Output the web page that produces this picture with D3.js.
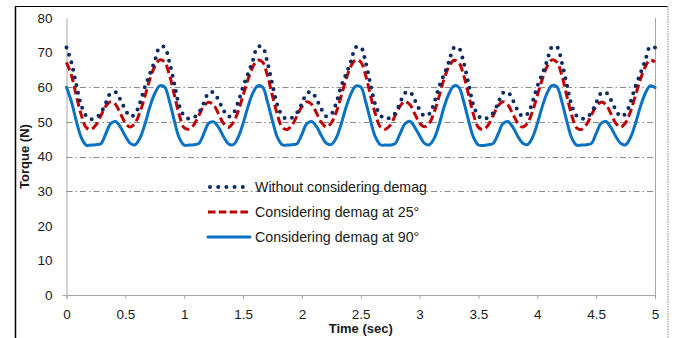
<!DOCTYPE html>
<html>
<head>
<meta charset="utf-8">
<script src="https://cdn.jsdelivr.net/npm/d3@7"></script>
<style>
  html, body { margin: 0; padding: 0; background: #fff; }
  svg { display: block; }
  text { font-family: "Liberation Sans", Arial, sans-serif; }
</style>
</head>
<body>
<svg id="chart" width="686" height="338"></svg>
<script>
// ---- data ----
const time = [
  0, 0.042, 0.083, 0.125, 0.167, 0.208, 0.25, 0.292, 0.333, 0.375, 0.417, 0.458,
  0.5, 0.542, 0.583, 0.625, 0.667, 0.708, 0.75, 0.792, 0.833, 0.875, 0.917, 0.958,
  1, 1.042, 1.083, 1.125, 1.167, 1.208, 1.25, 1.292, 1.333, 1.375, 1.417, 1.458,
  1.5, 1.542, 1.583, 1.625, 1.667, 1.708, 1.75, 1.792, 1.833, 1.875, 1.917, 1.958,
  2, 2.042, 2.083, 2.125, 2.167, 2.208, 2.25, 2.292, 2.333, 2.375, 2.417, 2.458,
  2.5, 2.542, 2.583, 2.625, 2.667, 2.708, 2.75, 2.792, 2.833, 2.875, 2.917, 2.958,
  3, 3.042, 3.083, 3.125, 3.167, 3.208, 3.25, 3.292, 3.333, 3.375, 3.417, 3.458,
  3.5, 3.542, 3.583, 3.625, 3.667, 3.708, 3.75, 3.792, 3.833, 3.875, 3.917, 3.958,
  4, 4.042, 4.083, 4.125, 4.167, 4.208, 4.25, 4.292, 4.333, 4.375, 4.417, 4.458,
  4.5, 4.542, 4.583, 4.625, 4.667, 4.708, 4.75, 4.792, 4.833, 4.875, 4.917, 4.958,
  5
];

const withoutDemag = [
  71.5, 67.1, 60.8, 54.8, 51.8, 50.8, 51.2, 52.6, 55.4, 58.3, 58.6, 56.4, 53.5, 51.6, 52.3, 55.6, 60.2, 63.8, 67.6, 71.6,
  71.6, 67.2, 60.9, 54.7, 51.7, 50.9, 51.3, 52.7, 55.5, 58.4, 58.5, 56.3, 53.4, 51.5, 52.4, 55.7, 60.1, 63.9, 67.7, 71.7,
  71.5, 67.0, 60.7, 54.8, 51.8, 50.8, 51.2, 52.6, 55.3, 58.2, 58.6, 56.5, 53.6, 51.6, 52.2, 55.5, 60.2, 63.8, 67.5, 71.6,
  71.6, 67.1, 60.8, 54.9, 51.9, 50.9, 51.2, 52.5, 55.4, 58.3, 58.7, 56.4, 53.5, 51.7, 52.3, 55.6, 60.3, 63.7, 67.4, 71.4,
  71.3, 67.0, 60.8, 54.8, 51.8, 50.8, 51.3, 52.6, 55.4, 58.4, 58.6, 56.3, 53.4, 51.6, 52.3, 55.6, 60.2, 63.8, 67.6, 71.6,
  71.6, 67.2, 60.9, 54.8, 51.8, 50.9, 51.2, 52.6, 55.5, 58.3, 58.5, 56.4, 53.5, 51.6, 52.4, 55.7, 60.2, 63.9, 67.7, 71.7,
  71.5
];

const demag25 = [
  67.2, 63.4, 57.6, 52.1, 48.4, 47.8, 49.1, 51.8, 54.5, 55.8, 55.0, 52.4, 49.7, 48.5, 49.7, 52.9, 57.5, 62.3, 66.0, 67.9,
  67.3, 63.5, 57.7, 52.0, 48.3, 47.9, 49.2, 51.9, 54.6, 55.7, 54.9, 52.3, 49.6, 48.4, 49.8, 53.0, 57.6, 62.2, 65.9, 67.8,
  67.2, 63.3, 57.5, 52.1, 48.4, 47.8, 49.1, 51.7, 54.4, 55.8, 55.1, 52.5, 49.8, 48.5, 49.7, 52.8, 57.4, 62.3, 66.1, 67.9,
  67.3, 63.4, 57.6, 52.2, 48.5, 47.9, 49.0, 51.8, 54.5, 55.9, 55.0, 52.4, 49.7, 48.6, 49.6, 52.9, 57.5, 62.4, 66.0, 67.8,
  67.1, 63.4, 57.7, 52.1, 48.4, 47.8, 49.1, 51.8, 54.6, 55.8, 54.9, 52.3, 49.7, 48.5, 49.7, 52.9, 57.6, 62.3, 66.0, 67.9,
  67.2, 63.5, 57.6, 52.0, 48.3, 47.8, 49.2, 51.9, 54.5, 55.7, 55.0, 52.4, 49.6, 48.5, 49.8, 53.0, 57.5, 62.2, 65.9, 67.9,
  67.3
];

const demag90 = [
  60.0, 55.8, 50.3, 45.5, 43.3, 43.3, 43.4, 43.7, 46.5, 49.5, 50.1, 48.5, 45.9, 43.8, 43.4, 45.4, 49.4, 54.3, 58.2, 60.4,
  60.1, 55.9, 50.2, 45.4, 43.3, 43.3, 43.4, 43.8, 46.6, 49.6, 50.0, 48.4, 45.8, 43.7, 43.4, 45.5, 49.5, 54.4, 58.3, 60.4,
  60.0, 55.7, 50.3, 45.5, 43.4, 43.3, 43.4, 43.7, 46.4, 49.5, 50.1, 48.6, 45.9, 43.8, 43.5, 45.4, 49.3, 54.2, 58.1, 60.3,
  60.1, 55.8, 50.4, 45.6, 43.4, 43.3, 43.3, 43.7, 46.5, 49.4, 50.2, 48.5, 46.0, 43.8, 43.4, 45.3, 49.4, 54.3, 58.2, 60.4,
  60.0, 55.8, 50.3, 45.5, 43.3, 43.2, 43.4, 43.8, 46.5, 49.5, 50.1, 48.5, 45.9, 43.9, 43.4, 45.4, 49.5, 54.4, 58.3, 60.5,
  60.1, 55.9, 50.3, 45.4, 43.3, 43.3, 43.4, 43.7, 46.6, 49.6, 50.1, 48.4, 45.8, 43.8, 43.4, 45.5, 49.4, 54.3, 58.2, 60.4,
  59.9
];

const seriesNames = ["Without considering demag", "Considering demag at 25°", "Considering demag at 90°"];
const xTicks = [0, 0.5, 1, 1.5, 2, 2.5, 3, 3.5, 4, 4.5, 5];
const yTicks = [0, 10, 20, 30, 40, 50, 60, 70, 80];
const gridValues = [30, 40, 50, 60];

// ---- drawing ----
const svg = d3.select("#chart");
const W = 686, H = 338;
svg.append("rect").attr("width", W).attr("height", H).attr("fill", "#fff");

const plot = { left: 66.5, right: 655, top: 18, bottom: 295 };
const x = d3.scaleLinear().domain([0, 5]).range([plot.left, plot.right]);
const y = d3.scaleLinear().domain([0, 80]).range([plot.bottom, plot.top]);

// outer frame
svg.append("line").attr("x1", 15).attr("x2", 668).attr("y1", 6.5).attr("y2", 6.5)
  .attr("stroke", "#000").attr("stroke-width", 1.2);
svg.append("line").attr("x1", 15.5).attr("x2", 15.5).attr("y1", 6).attr("y2", H)
  .attr("stroke", "#000").attr("stroke-width", 1.5);
svg.append("line").attr("x1", 668).attr("x2", 668).attr("y1", 6).attr("y2", H)
  .attr("stroke", "#b5b5b5").attr("stroke-width", 1.5).attr("stroke-dasharray", "1.5 1");

// gridlines
svg.append("g").selectAll("line").data(gridValues).join("line")
  .attr("x1", plot.left).attr("x2", plot.right)
  .attr("y1", d => Math.round(y(d)) + 0.5).attr("y2", d => Math.round(y(d)) + 0.5)
  .attr("stroke", "#8a8a8a").attr("stroke-width", 1)
  .attr("stroke-dasharray", "6 3 1.5 3");

// plot right border
svg.append("line").attr("x1", plot.right + 0.5).attr("x2", plot.right + 0.5)
  .attr("y1", plot.top).attr("y2", plot.bottom)
  .attr("stroke", "#a6a6a6").attr("stroke-width", 1);

// y axis
const yAxis = svg.append("g").attr("transform", `translate(${plot.left},0)`)
  .call(d3.axisLeft(y).tickValues(yTicks).tickSize(0).tickPadding(14).tickFormat(d3.format("d")));
yAxis.select(".domain").attr("stroke", "#a6a6a6");
yAxis.selectAll("text").attr("font-size", 13.5).attr("fill", "#1a1a1a")
  .attr("font-family", "Liberation Sans, Arial, sans-serif");
// small tick at zero
svg.append("line").attr("x1", plot.left - 4).attr("x2", plot.left)
  .attr("y1", y(0) + 0.5).attr("y2", y(0) + 0.5).attr("stroke", "#a6a6a6");

// x axis
const xAxis = svg.append("g").attr("transform", `translate(0,${plot.bottom})`)
  .call(d3.axisBottom(x).tickValues(xTicks).tickSize(4).tickPadding(10).tickFormat(d => String(d)));
xAxis.select(".domain").attr("stroke", "#a6a6a6");
xAxis.selectAll(".tick line").attr("stroke", "#a6a6a6");
xAxis.selectAll("text").attr("font-size", 13.5).attr("fill", "#1a1a1a")
  .attr("font-family", "Liberation Sans, Arial, sans-serif");

// axis titles
svg.append("text").attr("x", x(2.5)).attr("y", 333)
  .attr("text-anchor", "middle").attr("font-size", 13).attr("font-weight", "bold")
  .attr("fill", "#1a1a1a").text("Time (sec)");
svg.append("text").attr("transform", `translate(29,${(plot.top + plot.bottom) / 2}) rotate(-90)`)
  .attr("text-anchor", "middle").attr("font-size", 13).attr("font-weight", "bold")
  .attr("fill", "#1a1a1a").text("Torque (N)");

// series
const styles = [
  { color: "#0b2a66", width: 4, dash: "0 7.8", cap: "round" },
  { color: "#c00000", width: 3, dash: "8.5 4", cap: "butt" },
  { color: "#0a72c4", width: 3, dash: null, cap: "round" }
];
const seriesValues = [withoutDemag, demag25, demag90];
const line = d3.line().x(d => x(d[0])).y(d => y(d[1])).curve(d3.curveCatmullRom.alpha(0.5));

// draw blue first, red, then dotted on top
[2, 1, 0].forEach(si => {
  const pts = time.map((t, i) => [t, seriesValues[si][i]]);
  const s = styles[si];
  const p = svg.append("path").datum(pts).attr("d", line)
    .attr("fill", "none").attr("stroke", s.color).attr("stroke-width", s.width)
    .attr("stroke-linecap", s.cap).attr("stroke-linejoin", "round");
  if (s.dash) p.attr("stroke-dasharray", s.dash);
});

// legend
const legendY = [187, 212, 237];
const legend = svg.append("g");
seriesNames.forEach((name, i) => {
  const s = styles[i];
  const l = legend.append("line").attr("x1", i === 0 ? 210 : 208).attr("x2", 250)
    .attr("y1", legendY[i]).attr("y2", legendY[i])
    .attr("stroke", s.color).attr("stroke-width", s.width).attr("stroke-linecap", s.cap);
  if (s.dash) l.attr("stroke-dasharray", i === 0 ? "0 8.2" : "7.5 3.3");
  legend.append("text").attr("x", 255).attr("y", legendY[i]).attr("dy", "0.35em")
    .attr("font-size", 14.2).attr("fill", "#1a1a1a").text(name);
});
</script>
</body>
</html>
